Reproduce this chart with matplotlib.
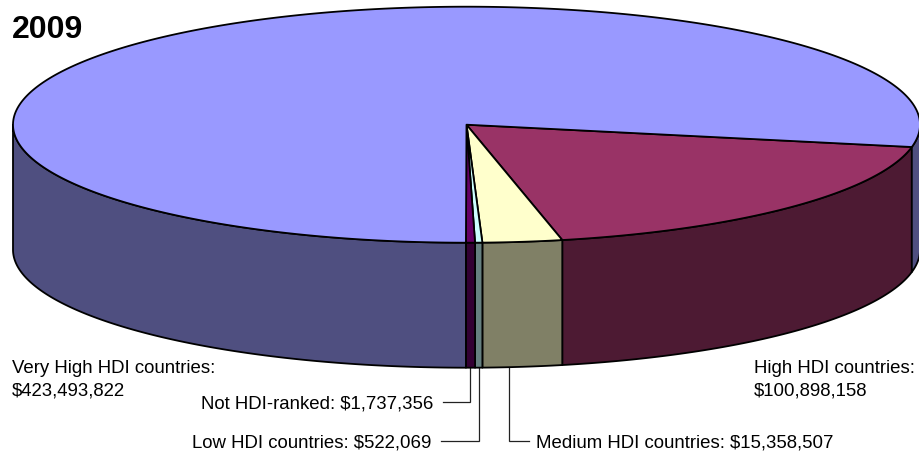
import numpy as np
import matplotlib
matplotlib.use("Agg")
import matplotlib.pyplot as plt
from matplotlib.patches import Polygon

title = "2009"
# Order: clockwise from the right-hand edge of the pie
categories = ["High HDI countries", "Medium HDI countries", "Low HDI countries",
              "Not HDI-ranked", "Very High HDI countries"]
labelled_values = ["\\$100,898,158", "\\$15,358,507", "\\$522,069", "\\$1,737,356", "\\$423,493,822"]
# Slice sizes; the reference draws the Low slice wider than its printed value,
# so that one entry is read from the picture rather than from its label.
slice_values = [100898158, 15358507, 1400000, 1737356, 423493822]
top_colors = ["#993366", "#FFFFCC", "#CCFFFF", "#660066", "#9999FF"]
side_colors = ["#4D1A33", "#808066", "#668080", "#330033", "#4F4F80"]

CX, CY, RX, RY, DEPTH = 466.5, 125.7, 453.5, 118.0, 125.0
START_DEG = -10.9
LW = 1.3

plt.rcParams["font.family"] = ["Liberation Sans", "DejaVu Sans"]
fig = plt.figure(figsize=(9.2, 4.56), dpi=100, facecolor="white")
ax = fig.add_axes([0, 0, 1, 1])
ax.set_xlim(0, 920)
ax.set_ylim(456, 0)
ax.axis("off")


def rim(a0, a1, dy=0.0):
    t = np.radians(np.linspace(a0, a1, max(int(abs(a1 - a0) * 6), 2)))
    return np.column_stack([CX + RX * np.cos(t), CY - RY * np.sin(t) + dy])


shares = np.array(slice_values, dtype=float)
sweeps = shares / shares.sum() * 360.0
ends = START_DEG - np.cumsum(sweeps)
starts = ends + sweeps

# Side walls: only the front half of the rim (angles -180..0) is visible
for a0, a1, col in zip(starts, ends, side_colors):
    for shift in (0, 360):
        hi, lo = min(a0 + shift, 0), max(a1 + shift, -180)
        if hi > lo:
            upper = rim(hi, lo)
            lower = rim(lo, hi, DEPTH)
            ax.add_patch(Polygon(np.vstack([upper, lower]), closed=True, fc=col,
                                 ec="black", lw=LW, joinstyle="round", zorder=2))

# Top faces
for a0, a1, col in zip(starts, ends, top_colors):
    pts = np.vstack([[CX, CY], rim(a0, a1)])
    ax.add_patch(Polygon(pts, closed=True, fc=col, ec="black", lw=LW,
                         joinstyle="round", zorder=3))


def rim_x(i):
    return CX + RX * np.cos(np.radians((starts[i] + ends[i]) / 2))


FS = 13.45
ax.text(12, 30, title, fontsize=23, fontweight="bold", color="black",
        ha="left", va="center")
ax.text(12, 380, f"{categories[4]}:\n{labelled_values[4]}", fontsize=FS, ha="left",
        va="center", linespacing=1.45)
ax.text(754, 380, f"{categories[0]}:\n{labelled_values[0]}", fontsize=FS, ha="left",
        va="center", linespacing=1.45)
ax.text(201, 404, f"{categories[3]}: {labelled_values[3]}", fontsize=FS, ha="left", va="center")
ax.text(192, 443, f"{categories[2]}: {labelled_values[2]}", fontsize=FS, ha="left", va="center")
ax.text(536, 443, f"{categories[1]}: {labelled_values[1]}", fontsize=FS, ha="left", va="center")

lead = dict(color="#222222", lw=0.9, zorder=1, solid_joinstyle="miter")
ax.plot([443, rim_x(3), rim_x(3)], [403, 403, 368], **lead)
ax.plot([441, rim_x(2), rim_x(2)], [442, 442, 368], **lead)
ax.plot([529, 509, 509], [442, 442, 367], **lead)

fig.savefig("out.png", dpi=100, facecolor="white")
